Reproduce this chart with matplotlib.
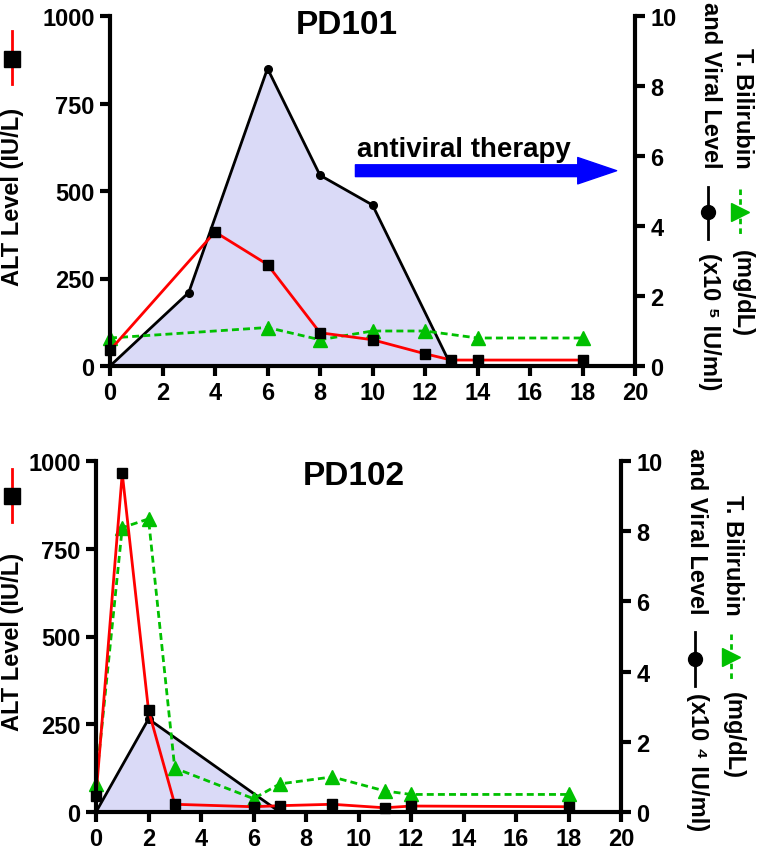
import matplotlib
matplotlib.use('Agg')
import matplotlib.pyplot as plt
from matplotlib.lines import Line2D
from matplotlib.patches import FancyArrowPatch

plt.rcParams['font.family'] = ['Liberation Sans', 'DejaVu Sans']
plt.rcParams['font.weight'] = 'bold'

# ---- data (weeks on x) ----
# PD101
pd101_alt_wk = [0, 4, 6, 8, 10, 12, 13, 14, 18]
pd101_alt = [45, 383, 290, 95, 75, 35, 17, 17, 17]
pd101_viral_wk = [0, 3, 6, 8, 10, 13]
pd101_viral = [0, 2.1, 8.5, 5.45, 4.6, 0]
pd101_bili_wk = [0, 6, 8, 10, 12, 14, 18]
pd101_bili = [0.8, 1.1, 0.75, 1.0, 1.0, 0.8, 0.8]

# PD102
pd102_alt_wk = [0, 1, 2, 3, 6, 7, 9, 11, 12, 18]
pd102_alt = [45, 965, 290, 22, 15, 18, 22, 12, 17, 15]
pd102_viral_wk = [0, 2, 7]
pd102_viral = [0, 2.65, 0]
pd102_bili_wk = [0, 1, 2, 3, 6, 7, 9, 11, 12, 18]
pd102_bili = [0.8, 8.1, 8.35, 1.25, 0.38, 0.8, 1.0, 0.6, 0.5, 0.5]

x_ticks = list(range(0, 21, 2))
alt_ticks = [0, 250, 500, 750, 1000]
right_ticks = list(range(0, 11, 2))

# antiviral therapy arrow (PD101), in weeks / right-axis units
arrow_start, arrow_end, arrow_level = 9.35, 19.3, 5.58

RED = '#ff0000'
GREEN = '#00c000'
BLUE = '#0000ff'
FILL = '#dadaf7'

W, H = 758, 853
fig = plt.figure(figsize=(W / 100, H / 100), dpi=100)


def fx(px):
    return px / W


def fy(py):
    return 1 - py / H


def fig_line(xs, ys, **kw):
    fig.add_artist(Line2D([fx(v) for v in xs], [fy(v) for v in ys],
                          transform=fig.transFigure, **kw))


def draw_panel(box, title, title_pos, alt_wk, alt, viral_wk, viral,
               bili_wk, bili, exponent, lab):
    left, top, right, bottom = box
    ax = fig.add_axes([fx(left), fy(bottom), (right - left) / W, (bottom - top) / H])
    ax2 = ax.twinx()
    ax.set_zorder(ax2.get_zorder() + 1)
    ax.patch.set_visible(False)

    ax2.fill_between(viral_wk, viral, 0, color=FILL, lw=0)
    # end points of the viral curve sit on the axis and are hidden there
    ax2.plot(viral_wk, viral, color='k', lw=2, marker='o', ms=5.5,
             markevery=slice(1, -1), clip_on=False)
    ax2.plot(bili_wk, bili, color=GREEN, lw=2, ls=(0, (2.5, 1.5)),
             marker='^', ms=9.5, clip_on=False)
    ax.plot(alt_wk, alt, color=RED, lw=2, marker='s', ms=6.5,
            mfc='k', mec='k', clip_on=False)

    ax.set_xlim(0, 20)
    ax.set_ylim(0, 1000)
    ax2.set_ylim(0, 10)
    ax.set_xticks(x_ticks)
    ax.set_yticks(alt_ticks)
    ax2.set_yticks(right_ticks)

    for a in (ax, ax2):
        a.spines['top'].set_visible(False)
        for s in a.spines.values():
            s.set_linewidth(3)
        a.tick_params(width=3, length=7, labelsize=17, pad=4)
    ax.spines['right'].set_visible(False)
    ax2.spines['left'].set_visible(False)
    ax2.spines['bottom'].set_visible(False)
    ax.tick_params(axis='x', pad=4)

    fig.text(fx(title_pos[0]), fy(title_pos[1]), title, ha='center',
             va='center', fontsize=24, weight='bold')

    # left label with its legend symbol
    fig.text(fx(lab['alt_x']), fy(lab['alt_y']), 'ALT Level (IU/L)',
             rotation=90, ha='center', va='center', fontsize=17)
    sx, s0, s1, sm = lab['alt_sym']
    fig_line([sx, sx], [s0, s1], color=RED, lw=2)
    fig_line([sx], [sm], color='k', marker='s', ms=12, ls='none')

    # right label, two rotated lines with symbols
    c1, c2 = lab['col1'], lab['col2']
    kw = dict(rotation=-90, ha='center', va='top', fontsize=17)
    fig.text(fx(c1), fy(lab['bili_top']), 'T. Bilirubin', **kw)
    fig.text(fx(c1), fy(lab['mgdl_top']), '(mg/dL)', **kw)
    fig.text(fx(c2), fy(lab['and_top']), 'and Viral Level', **kw)
    fig.text(fx(c2), fy(lab['x10_top']), '(x10 ' + exponent + ' IU/ml)', **kw)
    g0, g1, gm = lab['green_sym']
    fig_line([c1 - 2, c1 - 2], [g0, g1], color=GREEN, lw=2, ls=(0, (2, 1.5)))
    fig_line([c1 - 2], [gm], color=GREEN, marker='>', ms=13, ls='none')
    b0, b1, bm = lab['black_sym']
    fig_line([c2 - 2, c2 - 2], [b0, b1], color='k', lw=2)
    fig_line([c2 - 2], [bm], color='k', marker='o', ms=10, ls='none')
    return ax, ax2


ax, ax2 = draw_panel((110, 17, 635, 367), 'PD101', (347, 26),
                     pd101_alt_wk, pd101_alt, pd101_viral_wk, pd101_viral,
                     pd101_bili_wk, pd101_bili, '\u2075',
                     dict(alt_x=13, alt_y=197, alt_sym=(12, 32, 85, 60),
                          col1=742, col2=710, bili_top=48, mgdl_top=250,
                          and_top=2, x10_top=253,
                          green_sym=(190, 237, 213), black_sym=(188, 240, 213)))

arrow = FancyArrowPatch((arrow_start, arrow_level), (arrow_end, arrow_level),
                        arrowstyle='simple,head_length=2.8,head_width=1.9,tail_width=0.85',
                        mutation_scale=10, color=BLUE, shrinkA=0, shrinkB=0,
                        capstyle='round')
ax2.add_patch(arrow)
ax2.text(arrow_start + 0.05, 6.0, 'antiviral therapy', fontsize=20,
         weight='bold', va='baseline', ha='left')

draw_panel((96, 462, 621, 813), 'PD102', (354, 477),
           pd102_alt_wk, pd102_alt, pd102_viral_wk, pd102_viral,
           pd102_bili_wk, pd102_bili, '\u2074',
           dict(alt_x=13, alt_y=642, alt_sym=(12, 470, 523, 497),
                col1=733, col2=697, bili_top=495, mgdl_top=692,
                and_top=448, x10_top=693,
                green_sym=(635, 683, 658), black_sym=(633, 687, 660)))

fig.savefig('out.png', dpi=100)
